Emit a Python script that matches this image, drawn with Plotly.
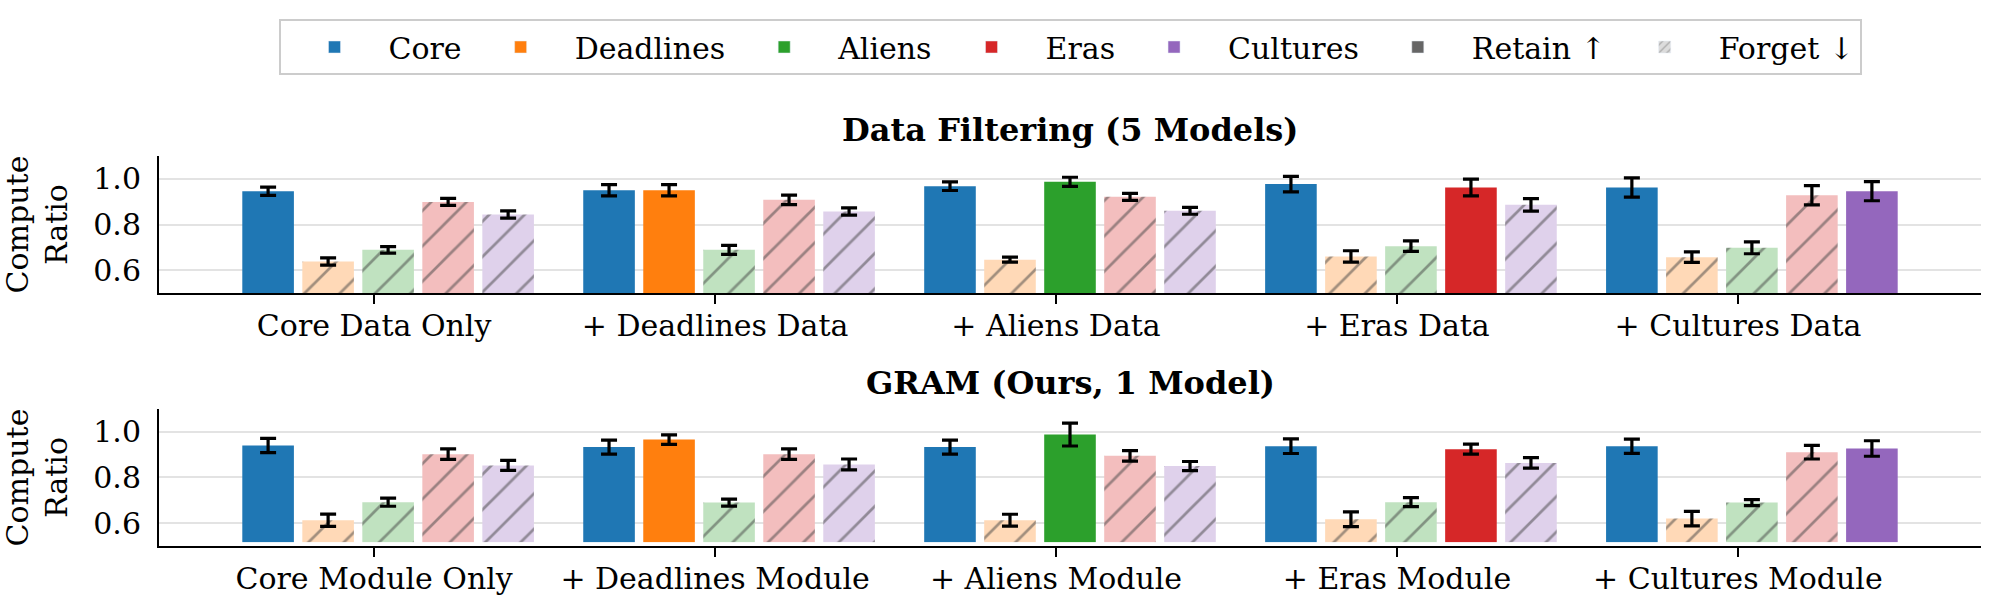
import plotly.graph_objects as go

domains = ["Core", "Deadlines", "Aliens", "Eras", "Cultures"]
colors = ["#1f77b4", "#ff7f0e", "#2ca02c", "#d62728", "#9467bd"]

filter_labels = ["Core Data Only", "+ Deadlines Data", "+ Aliens Data",
                 "+ Eras Data", "+ Cultures Data"]
gram_labels = ["Core Module Only", "+ Deadlines Module", "+ Aliens Module",
               "+ Eras Module", "+ Cultures Module"]

# which domains are retained in each condition (the rest are forgotten)
retained = [["Core"], ["Core", "Deadlines"], ["Core", "Aliens"],
            ["Core", "Eras"], ["Core", "Cultures"]]

# rows = condition, cols = domain (Core, Deadlines, Aliens, Eras, Cultures)
filter_mean = [
    [0.946, 0.638, 0.689, 0.899, 0.844],
    [0.950, 0.950, 0.689, 0.908, 0.857],
    [0.968, 0.646, 0.987, 0.921, 0.860],
    [0.977, 0.660, 0.705, 0.962, 0.886],
    [0.962, 0.657, 0.698, 0.928, 0.946],
]
filter_err = [
    [0.018, 0.016, 0.014, 0.015, 0.016],
    [0.025, 0.025, 0.020, 0.021, 0.016],
    [0.019, 0.011, 0.020, 0.015, 0.015],
    [0.034, 0.025, 0.023, 0.037, 0.027],
    [0.042, 0.023, 0.026, 0.042, 0.042],
]
gram_mean = [
    [0.940, 0.613, 0.692, 0.902, 0.853],
    [0.933, 0.966, 0.690, 0.902, 0.857],
    [0.933, 0.613, 0.988, 0.895, 0.850],
    [0.937, 0.617, 0.692, 0.924, 0.864],
    [0.937, 0.620, 0.690, 0.911, 0.927],
]
gram_err = [
    [0.031, 0.027, 0.018, 0.023, 0.022],
    [0.031, 0.021, 0.015, 0.023, 0.024],
    [0.031, 0.026, 0.050, 0.023, 0.020],
    [0.032, 0.032, 0.020, 0.022, 0.023],
    [0.031, 0.032, 0.013, 0.030, 0.034],
]

FONT = "DejaVu Serif"
FS = 30
HATCH = "#808080"


def faded(hex_color, alpha=0.3):
    r, g, b = (int(hex_color[i:i + 2], 16) for i in (1, 3, 5))
    mix = lambda c: round(alpha * c + (1 - alpha) * 255)
    return "rgb({},{},{})".format(mix(r), mix(g), mix(b))


fig = go.Figure()
groups = list(range(len(filter_labels)))

panels = [(filter_mean, filter_err, "x", "y"), (gram_mean, gram_err, "x2", "y2")]
for means, errs, xa, ya in panels:
    for d, name in enumerate(domains):
        keep = [name in retained[g] for g in groups]
        fig.add_trace(go.Bar(
            x=groups,
            y=[means[g][d] for g in groups],
            error_y=dict(type="data", array=[errs[g][d] for g in groups],
                         color="black", thickness=3.2, width=8),
            marker=dict(
                color=[colors[d] if k else faded(colors[d]) for k in keep],
                line=dict(width=0),
                pattern=dict(shape=["" if k else "/" for k in keep],
                             fgcolor=HATCH, size=25, solidity=0.11),
            ),
            name=name, showlegend=False, xaxis=xa, yaxis=ya,
        ))

# legend-only entries on a hidden axis
for name, col in zip(domains, colors):
    fig.add_trace(go.Bar(x=[None], y=[None], name=name, marker_color=col,
                         xaxis="x3", yaxis="y3"))
fig.add_trace(go.Bar(x=[None], y=[None], name="Retain ↑", marker_color="#666666",
                     xaxis="x3", yaxis="y3"))
fig.add_trace(go.Bar(x=[None], y=[None], name="Forget ↓",
                     marker=dict(color="#dcdcdc",
                                 pattern=dict(shape="/", fgcolor=HATCH, size=7, solidity=0.25)),
                     xaxis="x3", yaxis="y3"))

xcommon = dict(range=[-0.672, 4.672], tickvals=[g - 0.041 for g in groups],
               showline=True, linecolor="black", linewidth=2, ticks="outside",
               ticklen=9, tickwidth=2, tickcolor="black", showgrid=False,
               zeroline=False, tickfont=dict(size=FS), automargin=False,
               ticklabelstandoff=-4)
ycommon = dict(range=[0.5, 1.1], tickvals=[0.6, 0.8, 1.0], tickformat=".1f",
               showgrid=True, gridcolor="#e3e3e3", gridwidth=2, zeroline=False,
               showline=True, linecolor="black", linewidth=2, ticks="",
               ticklabelstandoff=10, tickfont=dict(size=FS), automargin=False,
               title=dict(text="Compute<br>Ratio", font=dict(size=FS), standoff=18))

fig.update_layout(
    width=1999, height=615,
    margin=dict(l=159, r=18, t=156, b=69),
    font=dict(family=FONT, size=FS, color="black"),
    paper_bgcolor="white", plot_bgcolor="white",
    barmode="group", bargap=0.12, bargroupgap=0.14,
    xaxis=dict(xcommon, ticktext=filter_labels, anchor="y"),
    yaxis=dict(ycommon, domain=[0.6487, 1.0], anchor="x"),
    xaxis2=dict(xcommon, ticktext=gram_labels, anchor="y2"),
    yaxis2=dict(ycommon, domain=[0.0, 0.3513], anchor="x2"),
    xaxis3=dict(visible=False, anchor="y3", automargin=False),
    yaxis3=dict(visible=False, anchor="x3", domain=[0, 0.01], automargin=False),
    legend=dict(orientation="h", x=0.5, xanchor="center",
                yref="container", y=1 - 19 / 615, yanchor="top",
                bordercolor="#cccccc", borderwidth=2, bgcolor="white",
                font=dict(size=FS), itemwidth=98),
    annotations=[
        dict(text="<b>Data Filtering (5 Models)</b>", xref="paper", yref="paper",
             x=0.5, y=1.0667, xanchor="center", yanchor="middle", showarrow=False,
             font=dict(size=32)),
        dict(text="<b>GRAM (Ours, 1 Model)</b>", xref="paper", yref="paper",
             x=0.5, y=0.418, xanchor="center", yanchor="middle", showarrow=False,
             font=dict(size=32)),
    ],
)

# drop the default page margin so the figure sits at the window corner
fig.write_html("out.html", config={"displayModeBar": False},
               post_script="document.body.style.margin = '0';")
